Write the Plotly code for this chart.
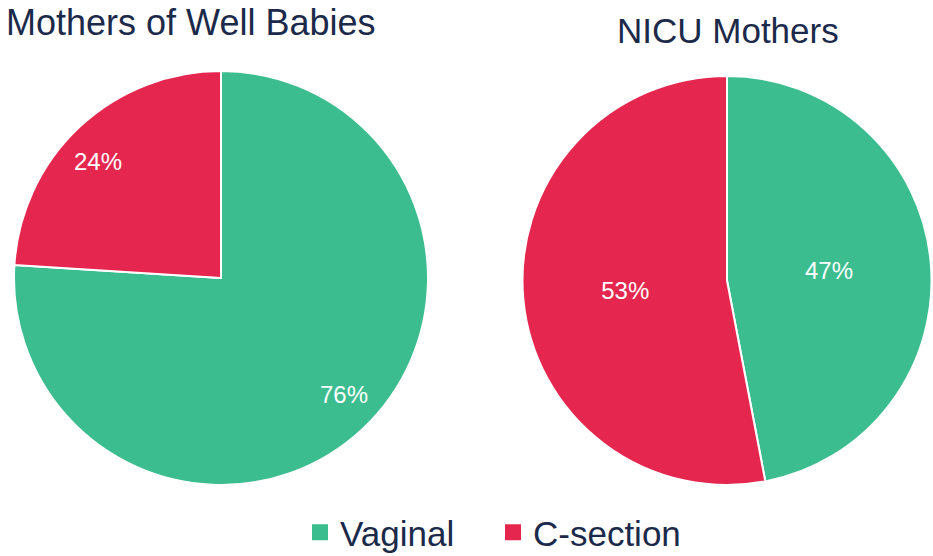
import math
import plotly.graph_objects as go

labels = ["Vaginal", "C-section"]
well_values = [76, 24]
nicu_values = [47, 53]
titles = ["Mothers of Well Babies", "NICU Mothers"]
colors = ["#3BBD8F", "#E5274F"]

W, H = 933, 556
OFF = 0  # body margin removed via post_script
PAD = 1

def fx(px):
    return (px - OFF) / W

def fy(py):
    return 1 - (py - OFF) / H

def domain(cx, cy, r):
    return dict(x=[max(0, fx(cx - r - PAD)), min(1, fx(cx + r + PAD))],
                y=[fy(cy + r + PAD), fy(cy - r - PAD)])

LEFT = (221, 278, 206)
RIGHT = (727, 280.5, 203.5)

fig = go.Figure()
fig.add_trace(go.Pie(
    labels=labels, values=well_values, sort=False, direction="clockwise", rotation=0,
    marker=dict(colors=colors, line=dict(color="white", width=2)),
    textinfo="none",
    domain=domain(*LEFT), hoverinfo="label+percent", showlegend=False,
))
fig.add_trace(go.Pie(
    labels=labels, values=nicu_values, sort=False, direction="clockwise", rotation=0,
    marker=dict(colors=colors, line=dict(color="white", width=2)),
    textinfo="percent", textposition="inside", insidetextorientation="horizontal",
    textfont=dict(color="white", size=24, family="Liberation Sans"),
    domain=domain(*RIGHT), hoverinfo="label+percent", showlegend=False,
))

# percent labels for the left pie, placed along each slice's mid-angle
cx, cy, r = LEFT
total = sum(well_values)
cum = 0
for v in well_values:
    mid = (cum + v / 2) / total * 2 * math.pi - math.radians(3.3)
    cum += v
    px = cx + 0.82 * r * math.sin(mid)
    py = cy - 0.82 * r * math.cos(mid)
    fig.add_annotation(text=f"{round(100 * v / total)}%", x=fx(px), y=fy(py),
                       xref="paper", yref="paper", showarrow=False,
                       xanchor="center", yanchor="middle",
                       font=dict(size=24, color="white", family="Liberation Sans"))

# legend entries
for lab, col in zip(labels, colors):
    fig.add_trace(go.Scatter(x=[None], y=[None], mode="markers", name=lab,
                             marker=dict(symbol="square", size=16, color=col),
                             showlegend=True))

fig.add_annotation(text=titles[0], x=fx(4), y=1, xref="paper", yref="paper",
                   xanchor="left", yanchor="top", showarrow=False,
                   font=dict(size=36, color="#1B2A4A", family="Liberation Sans"))
fig.add_annotation(text=titles[1], x=fx(728), y=fy(30), xref="paper", yref="paper",
                   xanchor="center", yanchor="middle", showarrow=False,
                   font=dict(size=35, color="#1B2A4A", family="Liberation Sans"))

fig.update_layout(
    width=W, height=H,
    margin=dict(l=0, r=0, t=0, b=0, autoexpand=False),
    paper_bgcolor="white", plot_bgcolor="white",
    xaxis=dict(visible=False), yaxis=dict(visible=False),
    legend=dict(orientation="h", x=fx(300), y=-6 / H, xanchor="left", yanchor="bottom",
                font=dict(size=35, color="#1B2A4A", family="Liberation Sans"),
                entrywidth=148, entrywidthmode="pixels", traceorder="normal",
                bgcolor="rgba(0,0,0,0)"),
)

fig.write_html("out.html", config={"displayModeBar": False},
               post_script="document.body.style.margin='0';")
